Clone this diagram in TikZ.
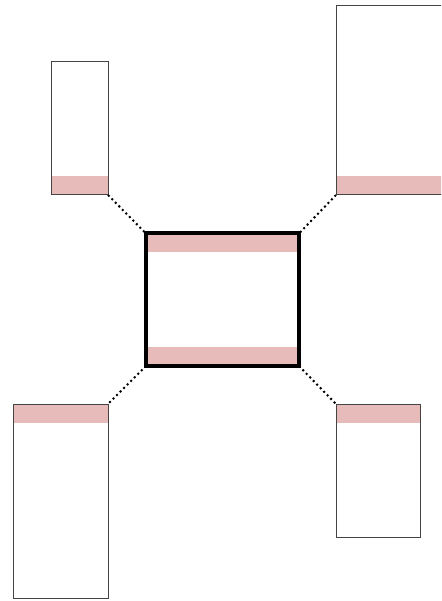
\documentclass[tikz,border=0pt]{standalone}
\definecolor{band}{HTML}{E8BBBB}
\definecolor{edge}{HTML}{444444}
\tikzset{
  panel/.style={draw=edge, line width=1pt, inner sep=0pt, outer sep=0pt, anchor=north west},
  hub/.style={draw=black, line width=4pt, inner sep=0pt, outer sep=0pt, anchor=north west},
  bandbottom/.style={path picture={\fill[band] (path picture bounding box.south west) rectangle ([yshift=19pt]path picture bounding box.south east);}},
  bandtop/.style={path picture={\fill[band] (path picture bounding box.north west) rectangle ([yshift=-18.5pt]path picture bounding box.north east);}},
  bandboth/.style={path picture={\fill[band] (path picture bounding box.north west) rectangle ([yshift=-18.5pt]path picture bounding box.north east);
      \fill[band] (path picture bounding box.south west) rectangle ([yshift=19pt]path picture bounding box.south east);}},
  link/.style={draw=black, line width=2pt, dash pattern=on 2pt off 3pt}
}
\begin{document}
\begin{tikzpicture}[x=1pt,y=-1pt]
\useasboundingbox (0,0) rectangle (441,601);
\clip (0,0) rectangle (441,601);
\node[panel, bandbottom, minimum width=57pt, minimum height=133pt] (tl) at (51,62) {};
\node[panel, bandbottom, minimum width=120pt, minimum height=189pt] (tr) at (336,6) {};
\node[panel, bandtop, minimum width=95pt, minimum height=194pt] (bl) at (13,404) {};
\node[panel, bandtop, minimum width=84pt, minimum height=133pt] (br) at (336,404) {};
\node[hub, bandboth, minimum width=153pt, minimum height=132.5pt] (c) at (146,233.5) {};
\draw[link] (tl.south east) -- (c.north west);
\draw[link] (tr.south west) -- (c.north east);
\draw[link] (c.south west) -- (bl.north east);
\draw[link] (c.south east) -- (br.north west);
\end{tikzpicture}
\end{document}
